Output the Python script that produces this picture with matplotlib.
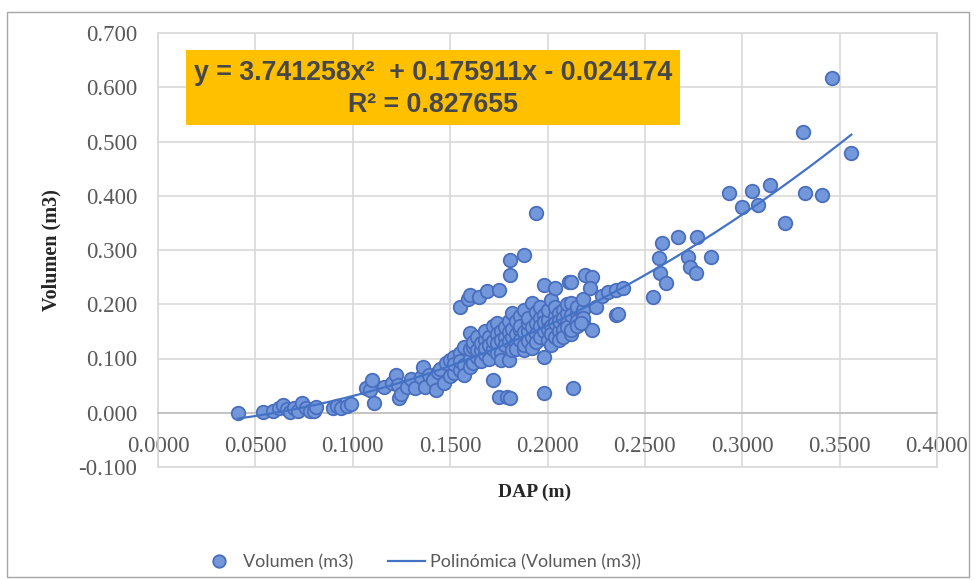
import numpy as np
import matplotlib
matplotlib.use("Agg")
import matplotlib.pyplot as plt
from matplotlib.patches import Rectangle
from matplotlib.lines import Line2D

# DAP (m) and Volumen (m3)
dap = [0.041, 0.054, 0.059, 0.062, 0.064, 0.066, 0.068, 0.070, 0.072, 0.074,
       0.076, 0.078, 0.080, 0.081, 0.090, 0.092, 0.094, 0.097, 0.099,
       0.107, 0.109, 0.110, 0.111, 0.116, 0.120, 0.122, 0.123, 0.124, 0.125,
       0.128, 0.130, 0.132, 0.135, 0.136, 0.137, 0.139, 0.141, 0.143, 0.144,
       0.145, 0.147, 0.148, 0.150, 0.150,
       0.155, 0.159, 0.160, 0.165, 0.169, 0.175, 0.181, 0.188, 0.181, 0.194,
       0.172, 0.175, 0.179, 0.181, 0.198, 0.213,
       0.152, 0.152, 0.152, 0.155, 0.155, 0.155, 0.157, 0.157, 0.157,
       0.160, 0.160, 0.160, 0.160, 0.162, 0.162, 0.162, 0.164, 0.164, 0.164,
       0.166, 0.166, 0.166, 0.168, 0.168, 0.168, 0.168, 0.170, 0.170, 0.170,
       0.172, 0.172, 0.172, 0.174, 0.174, 0.174, 0.174, 0.176, 0.176, 0.176, 0.176,
       0.178, 0.178, 0.178, 0.180, 0.180, 0.180, 0.180, 0.182, 0.182, 0.182, 0.182,
       0.184, 0.184, 0.184, 0.184, 0.186, 0.186, 0.186, 0.186, 0.188, 0.188, 0.188, 0.188,
       0.190, 0.190, 0.190, 0.190, 0.192, 0.192, 0.192, 0.192, 0.194, 0.194, 0.194, 0.194,
       0.196, 0.196, 0.196, 0.196, 0.198, 0.198, 0.198, 0.198, 0.200, 0.200, 0.200, 0.200,
       0.202, 0.202, 0.202, 0.202, 0.204, 0.204, 0.204, 0.204, 0.206, 0.206, 0.206, 0.206,
       0.208, 0.208, 0.208, 0.208, 0.210, 0.210, 0.210, 0.210, 0.212, 0.212, 0.212, 0.212,
       0.215, 0.215, 0.215, 0.215, 0.218, 0.218, 0.218, 0.218,
       0.198, 0.204, 0.211, 0.212, 0.219, 0.223, 0.222, 0.225, 0.228, 0.231,
       0.235, 0.239, 0.235, 0.236, 0.223, 0.217,
       0.254, 0.257, 0.258, 0.259, 0.261, 0.267, 0.272, 0.273, 0.276, 0.277, 0.284,
       0.293, 0.300, 0.305, 0.308, 0.314, 0.322, 0.331, 0.332, 0.341, 0.346, 0.356]

vol = [0.000, 0.002, 0.003, 0.008, 0.015, 0.006, 0.001, 0.009, 0.004, 0.018,
       0.008, 0.003, 0.004, 0.010, 0.009, 0.012, 0.008, 0.013, 0.016,
       0.046, 0.042, 0.061, 0.018, 0.048, 0.055, 0.070, 0.052, 0.028, 0.035,
       0.048, 0.062, 0.045, 0.066, 0.085, 0.048, 0.070, 0.061, 0.042, 0.075,
       0.080, 0.055, 0.092, 0.098, 0.068,
       0.195, 0.210, 0.217, 0.214, 0.225, 0.227, 0.282, 0.291, 0.254, 0.368,
       0.061, 0.029, 0.029, 0.027, 0.037, 0.046,
       0.103, 0.074, 0.090, 0.079, 0.110, 0.095, 0.122, 0.088, 0.070,
       0.147, 0.100, 0.085, 0.118, 0.122, 0.130, 0.092, 0.103, 0.140, 0.115,
       0.116, 0.095, 0.128, 0.134, 0.108, 0.150, 0.120, 0.140, 0.100, 0.125,
       0.160, 0.118, 0.132, 0.166, 0.110, 0.145, 0.128, 0.110, 0.150, 0.135, 0.097,
       0.140, 0.125, 0.158, 0.098, 0.170, 0.148, 0.132, 0.184, 0.115, 0.140, 0.155,
       0.129, 0.170, 0.145, 0.118, 0.153, 0.135, 0.178, 0.160, 0.116, 0.148, 0.190, 0.125,
       0.150, 0.165, 0.132, 0.175, 0.203, 0.140, 0.120, 0.158, 0.166, 0.185, 0.145, 0.130,
       0.140, 0.175, 0.160, 0.195, 0.103, 0.150, 0.180, 0.168, 0.171, 0.135, 0.190, 0.155,
       0.208, 0.160, 0.145, 0.125, 0.140, 0.178, 0.195, 0.165, 0.184, 0.150, 0.170, 0.135,
       0.153, 0.190, 0.175, 0.140, 0.184, 0.165, 0.200, 0.158, 0.203, 0.180, 0.145, 0.153,
       0.184, 0.170, 0.195, 0.160, 0.190, 0.166, 0.210, 0.175,
       0.236, 0.230, 0.241, 0.241, 0.254, 0.250, 0.230, 0.195, 0.215, 0.223,
       0.227, 0.230, 0.180, 0.182, 0.153, 0.166,
       0.214, 0.285, 0.258, 0.313, 0.239, 0.324, 0.287, 0.269, 0.258, 0.324, 0.287,
       0.405, 0.379, 0.409, 0.383, 0.420, 0.350, 0.517, 0.405, 0.401, 0.617, 0.479]

# polynomial trendline coefficients as printed on the chart
coefs = [3.741258, 0.175911, -0.024174]
r2 = 0.827655

xticks = [0.0, 0.05, 0.10, 0.15, 0.20, 0.25, 0.30, 0.35, 0.40]
yticks = [-0.1, 0.0, 0.1, 0.2, 0.3, 0.4, 0.5, 0.6, 0.7]

W, H = 976, 580
fig = plt.figure(figsize=(W / 100, H / 100), dpi=100)
ax = fig.add_axes([158 / W, 1 - 467 / H, (937 - 158) / W, (467 - 33) / H])

grid_c = "#D9D9D9"
ax.set_xlim(0, 0.4)
ax.set_ylim(-0.1, 0.7)
ax.set_xticks(xticks)
ax.set_yticks(yticks)
ax.set_xticklabels([f"{t:.4f}" for t in xticks])
ax.set_yticklabels([f"{t:.3f}" for t in yticks])
ax.grid(True, color=grid_c, lw=1.2)
ax.set_axisbelow(True)
for s in ["left", "right", "top"]:
    ax.spines[s].set_color(grid_c)
    ax.spines[s].set_linewidth(1.2)
ax.spines["bottom"].set_position(("data", 0))
ax.spines["bottom"].set_color("#BFBFBF")
ax.spines["bottom"].set_linewidth(1.2)
ax.axhline(-0.1, color=grid_c, lw=1.2, clip_on=False)

serif = "Liberation Serif"
ax.tick_params(length=0, labelsize=16.5, labelcolor="#595959")
ax.tick_params(axis="x", pad=17)
ax.tick_params(axis="y", pad=15)
for lab in ax.get_xticklabels() + ax.get_yticklabels():
    lab.set_fontfamily(serif)

ax.scatter(dap, vol, s=95, c="#7297DA", edgecolors="#4A6EBE", linewidths=1.3,
           zorder=3)
xs = np.linspace(min(dap), max(dap), 200)
ax.plot(xs, np.polyval(coefs, xs), color="#4472C4", lw=1.6, zorder=4)

ax.set_ylabel("Volumen (m3)", fontfamily=serif, fontweight="bold", fontsize=14.5,
              color="#262626")
ax.yaxis.set_label_coords(-(158 - 61) / (937 - 158), 0.5)
fig.text(535 / W, 1 - 492 / H, "DAP (m)", fontfamily=serif, fontweight="bold",
         fontsize=14, color="#262626", ha="center", va="center")

# equation box
fig.patches.append(Rectangle((186 / W, 1 - 125 / H), 494 / W, 75 / H,
                             transform=fig.transFigure, facecolor="#FFC000",
                             edgecolor="none", zorder=5))
eq = (f"y = {coefs[0]:.6f}x\u00b2  + {coefs[1]:.6f}x - {abs(coefs[2]):.6f}")
fig.text(433 / W, 1 - 73 / H, eq, fontfamily="Liberation Sans", fontweight="bold",
         fontsize=19.3, color="#474747", ha="center", va="center", zorder=6)
fig.text(433 / W, 1 - 105 / H, f"R\u00b2 = {r2:.6f}", fontfamily="Liberation Sans",
         fontweight="bold", fontsize=19.3, color="#474747", ha="center",
         va="center", zorder=6)

# legend
handles = [Line2D([], [], ls="none", marker="o", ms=9, mfc="#7297DA",
                  mec="#4A6EBE", mew=1.3),
           Line2D([], [], color="#4472C4", lw=1.6)]
fig.legend(handles, ["Volumen (m3)", "Polinómica (Volumen (m3))"], ncol=2,
           loc="center", bbox_to_anchor=(421 / W, 1 - 562 / H), frameon=False,
           prop={"family": "Lato", "size": 13}, labelcolor="#595959",
           handlelength=2.05, columnspacing=1.9, handletextpad=0.3)

# chart border
fig.patches.append(Rectangle((7 / W, 3 / H), 962 / W, 565 / H,
                             transform=fig.transFigure, facecolor="none",
                             edgecolor="#A6A6A6", lw=1.0))

fig.savefig("out.png", dpi=100)
